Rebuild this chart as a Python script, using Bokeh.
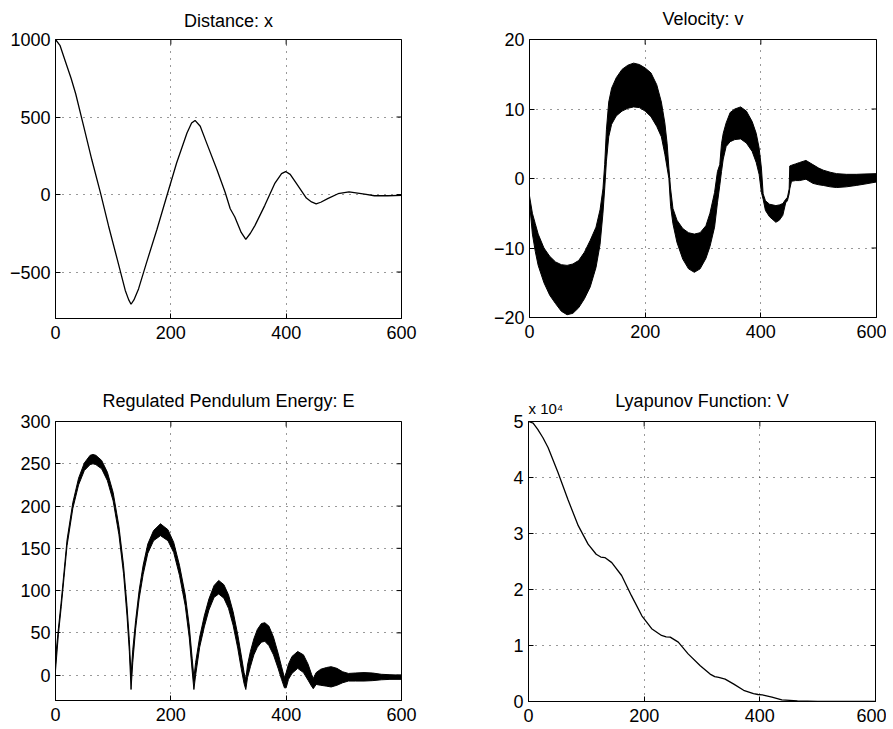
import math
from bokeh.plotting import figure
from bokeh.layouts import column, row
from bokeh.models import FixedTicker, Range1d, Title
from bokeh.embed import file_html
from bokeh.resources import INLINE

FONT = "Liberation Sans"

# ---------------- data ----------------
# Panel 1: Distance x
x_t = [0, 8, 17, 27, 35, 49, 63, 78, 92, 107, 121, 127, 131, 136, 144, 158, 176, 193, 210, 228,
       236, 242, 251, 262, 280, 294, 303, 311, 322, 330, 338, 346, 363, 380, 392, 399, 407, 418,
       435, 444, 452, 460, 472, 490, 509, 536, 553, 576, 600]
x_val = [1000, 960, 860, 750, 650, 438, 224, 11, -203, -417, -619, -680, -708, -680, -609, -438,
         -224, -10, 203, 397, 461, 478, 440, 333, 160, 16, -92, -145, -245, -290, -250, -199, -70,
         70, 135, 148, 130, 70, -23, -48, -60, -50, -27, 5, 17, 3, -8, -8, -6]

# Panel 2: Velocity v (upper / lower envelope of the fast oscillation)
v_t = [0, 5, 10, 15, 25, 35, 45, 55, 65, 75, 85, 95, 105, 115, 122, 127, 130, 133, 137, 142, 150,
       160, 170, 180, 190, 200, 210, 220, 228, 234, 238, 241, 244, 248, 255, 265, 275, 285, 295,
       305, 312, 320, 325, 329, 332, 335, 340, 347, 355, 365, 375, 385, 392, 397, 401, 404, 408,
       415, 426, 432, 438, 443, 446, 449, 450, 453, 460, 467, 478, 490, 500, 508, 520, 531, 548,
       565, 580, 600]
v_hi = [-2.5, -5, -6.5, -8, -10, -11.2, -12, -12.4, -12.5, -12.3, -11.8, -10.6, -8.9, -7, -4.5,
        -1.5, 2, 7, 11, 13, 14.5, 15.7, 16.3, 16.6, 16.4, 15.9, 15.2, 13.5, 11, 8, 5, 1.5, -1.5,
        -4.3, -6, -7.2, -7.8, -8, -7.8, -6.8, -5, -2, 1, 2, 5, 6.5, 8, 9.5, 10, 10.3, 9.7, 8.2,
        6.5, 4.4, 1.5, -2.2, -3.2, -3.7, -3.9, -3.8, -3.6, -3.0, -2.7, -1.5, 1.8, 1.9, 2.1, 2.3,
        2.6, 2.0, 1.5, 1.2, 0.9, 0.7, 0.6, 0.6, 0.65, 0.7]
v_lo = [-3.5, -8, -10.5, -12.5, -15, -16.8, -18, -19.1, -19.6, -19.4, -18.6, -17.3, -15.6, -12.8,
        -9.5, -5, -1.5, 2.5, 6, 7.8, 9, 9.7, 10.1, 10.3, 10.2, 9.7, 8.9, 7.5, 6, 3.5, 1.5, 0, -4,
        -6.5, -9.2, -11.6, -13, -13.5, -13, -11.5, -9.8, -7, -3.5, -1, 1, 2.8, 4.6, 5.3, 5.6, 5.7,
        5.1, 3.9, 2.3, 0.6, -2, -3.0, -4.6, -5.5, -6.3, -6.0, -5.3, -3.5, -3.2, -2.2, -1.5, -0.4,
        -0.3, -0.3, -0.1, -0.7, -0.9, -1.0, -1.2, -1.3, -1.2, -1.0, -0.8, -0.5]

# Panel 3: Regulated pendulum energy E (upper / lower envelope)
e_t = [0, 5, 10, 20, 30, 40, 50, 60, 65, 70, 80, 90, 100, 110, 118, 124, 128, 131, 134, 139, 145,
       152, 160, 170, 182, 195, 205, 215, 225, 232, 237, 240, 243, 250, 258, 266, 275, 283, 292,
       300, 308, 316, 322, 327, 330, 333, 338, 344, 350, 357, 363, 370, 378, 386, 392, 397, 400,
       404, 410, 420, 430, 438, 444, 447, 452, 460, 470, 478, 488, 498, 508, 520, 535, 550, 565,
       580, 600]
e_hi = [20, 55, 88, 160, 204, 233, 251, 260, 261, 260, 254, 240, 216, 176, 130, 82, 42, 0, 30, 65,
        100, 130, 155, 171, 179, 172, 157, 130, 95, 58, 20, -3, 15, 45, 70, 90, 106, 112, 107, 95,
        75, 48, 24, 3, -5, 12, 28, 43, 54, 61, 62, 58, 45, 26, 10, -3, 3, 13, 22, 28, 24, 13, 1, -4,
        3, 7, 9, 10, 8, 4, 2, 2.5, 3, 2.5, 1, 0.5, 0]
e_lo = [5, 48, 81, 153, 197, 225, 242, 249, 250, 249, 244, 230, 206, 166, 120, 70, 28, -17, 15, 55,
        90, 119, 144, 159, 165, 159, 145, 118, 82, 44, 5, -17, 0, 33, 57, 77, 92, 96, 91, 79, 59, 32,
        8, -10, -17, -3, 10, 24, 33, 39, 40, 35, 24, 8, -5, -15, -15, -5, 2, 8, 3, -6, -13, -16,
        -11, -12, -13, -14, -12, -9, -7, -7, -7, -6.5, -5.5, -5, -5]

# Panel 4: Lyapunov function V
l_t = [0, 8, 16, 25, 34, 51, 68, 86, 103, 117, 125, 132, 144, 161, 178, 196, 213, 230, 238, 245,
       259, 276, 297, 314, 322, 329, 340, 355, 372, 389, 397, 404, 421, 438, 465, 500, 550, 600]
l_val = [50000, 49700, 48600, 47100, 45300, 40900, 36100, 31400, 28100, 26300, 25800, 25700, 24800,
         22500, 18900, 15300, 13000, 11800, 11550, 11500, 10600, 8500, 6400, 4900, 4450, 4300, 4000,
         3100, 2000, 1400, 1250, 1200, 800, 300, 100, 0, 0, 0]

titles = ["Distance: x", "Velocity: v", "Regulated Pendulum Energy: E", "Lyapunov Function: V"]
exponent_label = "x 10\u2074"
x_ticks = [0, 200, 400, 600]
y1_ticks = [-500, 0, 500, 1000]
y1_labels = ["\u2212500", "0", "500", "1000"]
y2_ticks = [-20, -10, 0, 10, 20]
y2_labels = ["\u221220", "\u221210", "0", "10", "20"]
y3_ticks = [0, 50, 100, 150, 200, 250, 300]
y4_ticks = [0, 10000, 20000, 30000, 40000, 50000]
y4_labels = ["0", "1", "2", "3", "4", "5"]


def make(title, yr, yticks, ylabels, fw, fh, bl, br, bt, bb, standoff, valign):
    p = figure(output_backend="svg", toolbar_location=None,
               frame_width=fw, frame_height=fh,
               x_range=Range1d(0, 600), y_range=Range1d(*yr),
               min_border_left=bl, min_border_right=br,
               min_border_top=bt, min_border_bottom=bb)
    p.title.text = title
    p.title.align = "center"
    p.title.vertical_align = valign
    p.title.text_font = FONT
    p.title.text_font_size = "18px"
    p.title.text_font_style = "normal"
    p.title.text_color = "black"
    p.title.standoff = standoff
    p.background_fill_color = "white"
    p.border_fill_color = "white"
    p.outline_line_color = "black"
    p.outline_line_width = 1
    p.xaxis.ticker = FixedTicker(ticks=x_ticks)
    p.yaxis.ticker = FixedTicker(ticks=yticks)
    p.yaxis.major_label_overrides = {t: l for t, l in zip(yticks, ylabels)}
    for ax in p.xaxis + p.yaxis:
        ax.major_tick_in = 5
        ax.major_tick_out = 0
        ax.minor_tick_line_color = None
        ax.axis_line_color = "black"
        ax.major_label_text_font = FONT
        ax.major_label_text_font_size = "18px"
        ax.major_label_text_color = "black"
    p.xaxis.major_label_standoff = 7
    p.yaxis.major_label_standoff = 5
    for g in (p.xgrid[0], p.ygrid[0]):
        g.grid_line_color = "black"
        g.grid_line_dash = "1 6"
        g.grid_line_width = 1
        g.grid_line_alpha = 0.8
    p.xgrid.ticker = FixedTicker(ticks=x_ticks)
    p.ygrid.ticker = FixedTicker(ticks=yticks)
    # inward ticks on the top and right edges (half of each dash is clipped by the frame)
    p.scatter(x=x_ticks, y=[yr[1]] * len(x_ticks), marker="dash", size=10,
              angle=math.pi / 2, line_color="black", line_width=1)
    p.scatter(x=[600] * len(yticks), y=yticks, marker="dash", size=10,
              line_color="black", line_width=1)
    return p


p1 = make(titles[0], (-800, 1000), y1_ticks, y1_labels, 346, 279, 55, 40, 36, 63, 14, "top")
p1.line(x_t, x_val, line_color="black", line_width=1.3)

p2 = make(titles[1], (-20, 20), y2_ticks, y2_labels, 347, 278, 88, 10, 39, 61, 17, "top")
p2.varea(x=v_t, y1=v_lo, y2=v_hi, fill_color="black")
p2.line(v_t, v_hi, line_color="black", line_width=1)
p2.line(v_t, v_lo, line_color="black", line_width=1)

p3 = make(titles[2], (-30, 300), y3_ticks, [str(t) for t in y3_ticks], 346, 279, 55, 40, 41, 29,
          18, "top")
p3.varea(x=e_t, y1=e_lo, y2=e_hi, fill_color="black")
p3.line(e_t, e_hi, line_color="black", line_width=1)
p3.line(e_t, e_lo, line_color="black", line_width=1)

p4 = make(titles[3], (0, 50000), y4_ticks, y4_labels, 347, 280, 87, 11, 43, 27, -28, "bottom")
p4.line(l_t, l_val, line_color="black", line_width=1.3)
p4.add_layout(Title(text=exponent_label, align="left", vertical_align="top", text_font=FONT,
                    text_font_size="15px", text_font_style="normal", text_color="black",
                    standoff=6), "above")

layout = column(row(p1, p2), row(p3, p4))
open("out.html", "w").write(file_html(layout, INLINE))
